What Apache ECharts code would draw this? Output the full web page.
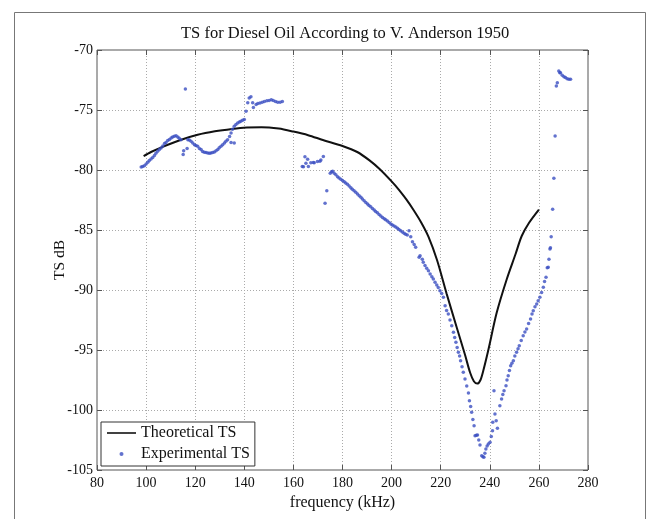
<!DOCTYPE html>
<html>
<head>
<meta charset="utf-8">
<script src="https://cdn.jsdelivr.net/npm/echarts@6/dist/echarts.min.js"></script>
<style>
  html, body { margin: 0; padding: 0; background: #fff; }
  #chart { width: 647px; height: 519px; }
</style>
</head>
<body>
<div id="chart"></div>
<script>
// frequency (kHz) / TS (dB) pairs
const theoretical = [
  [99, -78.85], [102, -78.5], [107, -78.05], [114, -77.5], [121, -77.07],
  [128, -76.78], [135, -76.58], [141, -76.46], [147, -76.43], [154, -76.55],
  [160, -76.8], [166, -77.1], [172, -77.5], [180, -78.0], [186, -78.5],
  [191, -79.2], [195, -79.9], [200, -80.95], [203, -81.65], [206, -82.45],
  [209, -83.35], [212, -84.35], [215, -85.55], [218.5, -87.5], [222.4, -90.3],
  [226.5, -93.1], [229.9, -95.4], [232, -96.9], [233.5, -97.6], [234.9, -97.8],
  [236.2, -97.5], [237.5, -96.6], [239.4, -95.0], [242.8, -91.9], [246.9, -89.1],
  [250.5, -87.0], [253, -85.5], [256, -84.4], [260, -83.3]
];

const experimental = [
  [98.0, -79.75], [98.6, -79.7], [99.3, -79.64], [100.0, -79.5], [100.7, -79.36],
  [101.3, -79.2], [102.0, -79.08], [102.7, -78.95], [103.4, -78.8], [104.0, -78.6],
  [104.7, -78.44], [105.4, -78.3], [106.1, -78.17], [106.8, -78.0], [107.5, -77.8],
  [108.1, -77.7], [108.8, -77.55], [109.5, -77.45], [110.2, -77.33], [110.8, -77.25],
  [111.5, -77.19], [112.2, -77.15], [112.9, -77.25], [113.5, -77.35], [114.2, -77.47],
  [115.1, -78.7], [115.3, -78.4], [116.0, -73.25], [116.7, -78.2], [117.0, -77.47],
  [117.6, -77.5], [118.3, -77.6], [119.0, -77.75], [119.7, -77.9], [120.3, -77.95],
  [121.0, -78.03], [121.7, -78.2], [122.4, -78.3], [123.0, -78.45], [123.7, -78.53],
  [124.4, -78.55], [125.1, -78.58], [125.8, -78.6], [126.4, -78.58], [127.1, -78.55],
  [127.8, -78.5], [128.5, -78.4], [129.2, -78.3], [129.8, -78.15], [130.5, -78.03],
  [131.2, -77.9], [131.9, -77.75], [132.5, -77.6], [133.2, -77.47], [134.0, -77.2],
  [134.6, -77.7], [135.9, -77.75], [134.6, -76.92], [135.2, -76.6], [135.9, -76.36],
  [136.6, -76.2], [137.3, -76.08], [138.0, -76.0], [138.6, -75.94], [139.3, -75.85],
  [140.0, -75.8], [140.7, -75.1], [141.4, -74.4], [142.0, -74.0], [142.7, -73.9],
  [143.4, -74.4], [143.7, -74.8], [144.8, -74.55], [145.5, -74.45], [146.4, -74.42],
  [147.3, -74.35], [148.2, -74.3], [149.2, -74.23], [150.1, -74.2], [151.0, -74.15],
  [151.8, -74.2], [152.7, -74.3], [153.6, -74.35], [154.6, -74.35], [155.5, -74.3],
  [163.6, -79.7], [164.1, -79.72], [164.7, -78.9], [165.1, -79.44], [165.8, -79.1],
  [166.1, -79.7], [167.1, -79.39], [168.1, -79.37], [168.5, -79.39], [169.8, -79.3],
  [170.8, -79.28], [171.2, -79.17], [172.2, -78.87], [172.9, -82.78], [173.6, -81.72],
  [175.0, -80.28], [175.5, -80.14], [176.0, -80.1], [176.6, -80.28], [177.3, -80.4],
  [178.0, -80.56], [178.6, -80.67], [179.3, -80.78], [180.0, -80.88], [180.7, -80.97],
  [181.3, -81.08], [182.0, -81.19], [182.7, -81.33], [183.4, -81.47], [184.0, -81.6],
  [184.7, -81.72], [185.4, -81.86], [186.1, -82.0], [186.8, -82.14], [187.5, -82.28],
  [188.1, -82.42], [188.8, -82.56], [189.5, -82.7], [190.2, -82.83], [190.8, -82.95],
  [191.5, -83.06], [192.2, -83.2], [192.9, -83.33], [193.5, -83.45], [194.2, -83.56],
  [194.9, -83.7], [195.6, -83.83], [196.3, -83.95], [197.0, -84.06], [197.6, -84.15],
  [198.3, -84.25], [199.0, -84.38], [199.7, -84.5], [200.3, -84.58], [201.0, -84.67],
  [201.7, -84.76], [202.4, -84.86], [203.0, -84.96], [203.7, -85.06], [204.4, -85.17],
  [205.1, -85.28], [205.7, -85.35], [206.4, -85.42], [207.1, -85.06], [207.8, -85.56],
  [208.5, -85.97], [209.2, -86.2], [209.8, -86.44], [211.2, -87.28], [211.6, -87.14],
  [212.5, -87.44], [212.9, -87.69], [213.6, -87.95], [214.3, -88.19], [215.0, -88.4],
  [215.7, -88.67], [216.4, -88.9], [217.0, -89.08], [217.7, -89.35], [218.4, -89.58],
  [219.0, -89.8], [219.7, -90.06], [220.4, -90.3], [221.1, -90.61], [221.8, -91.31],
  [222.4, -91.7], [223.1, -92.0], [223.8, -92.5], [224.5, -92.97], [225.2, -93.53],
  [225.7, -93.95], [226.2, -94.36], [226.7, -94.8], [227.2, -95.19], [227.7, -95.5],
  [228.1, -95.89], [228.7, -96.4], [229.2, -96.86], [229.9, -97.42], [230.6, -98.0],
  [231.3, -98.58], [231.7, -99.22], [232.2, -99.7], [232.6, -100.19], [233.1, -100.8],
  [233.6, -101.31], [234.0, -102.14], [234.5, -102.1], [235.0, -102.08], [235.5, -102.5],
  [236.0, -102.92], [236.7, -103.81], [237.2, -103.9], [237.6, -103.94], [238.0, -103.6],
  [238.4, -103.25], [238.9, -103.0], [239.4, -102.83], [240.1, -102.69], [240.6, -102.2],
  [241.1, -101.72], [241.2, -101.03], [241.7, -98.39], [242.1, -100.33], [242.6, -100.9],
  [243.1, -101.53], [244.1, -99.64], [244.8, -99.08], [245.3, -98.7], [245.8, -98.39],
  [246.6, -97.97], [247.0, -97.5], [247.5, -97.14], [248.0, -96.7], [248.5, -96.31],
  [249.0, -96.1], [249.6, -95.89], [250.2, -95.5], [250.9, -95.19], [251.5, -94.9],
  [252.0, -94.64], [252.8, -94.2], [253.6, -93.81], [254.3, -93.5], [255.0, -93.25],
  [255.8, -92.8], [256.6, -92.42], [257.2, -92.0], [257.7, -91.72], [258.4, -91.4],
  [259.1, -91.17], [259.7, -90.9], [260.4, -90.61], [261.1, -90.2], [261.8, -89.78],
  [262.3, -89.3], [262.9, -88.94], [263.4, -88.14], [263.8, -88.11], [264.1, -87.44],
  [264.5, -86.58], [264.7, -86.47], [265.0, -85.56], [265.6, -83.28], [266.1, -80.69],
  [266.6, -77.17], [267.1, -73.0], [267.5, -72.72], [268.1, -71.75], [268.5, -71.9],
  [268.8, -71.89], [269.5, -72.11], [270.2, -72.22], [270.8, -72.3], [271.5, -72.39],
  [272.2, -72.44], [272.9, -72.44]
];

const xRange = [80, 280, 20];
const yRange = [-105, -70, 5];

const serif = 'Liberation Serif';
const chart = echarts.init(document.getElementById('chart'));

// box ticks on top/right like matlab
const boxAxis = {
  axisLine: { show: false },
  axisTick: { show: true, inside: true, length: 5, lineStyle: { color: '#555' } },
  axisLabel: { show: false },
  splitLine: { show: false }
};

chart.setOption({
  backgroundColor: '#fff',
  animation: false,
  title: {
    text: 'TS for Diesel Oil According to V. Anderson 1950',
    left: 176,
    top: 20,
    textStyle: { fontFamily: serif, fontSize: 16.5, fontWeight: 'normal', color: '#111' }
  },
  graphic: [{
    type: 'rect',
    shape: { x: 14.5, y: 12.5, width: 631, height: 530 },
    style: { fill: 'none', stroke: '#777', lineWidth: 1 },
    silent: true,
    z: -1
  }],
  legend: {
    orient: 'vertical',
    left: 101,
    top: 422,
    padding: [3, 5, 4, 6],
    itemWidth: 29,
    itemHeight: 4,
    itemGap: 5,
    borderColor: '#333',
    borderWidth: 1,
    backgroundColor: '#fff',
    textStyle: { fontFamily: serif, fontSize: 16, color: '#111' },
    data: [
      { name: 'Theoretical TS', icon: 'path://M0,0L29,0L29,1.6L0,1.6Z' },
      { name: 'Experimental TS', icon: 'circle' }
    ]
  },
  grid: {
    left: 97, right: 59, top: 50, bottom: 49,
    show: true, borderColor: '#555', borderWidth: 1, backgroundColor: '#fff'
  },
  xAxis: [{
    type: 'value',
    min: xRange[0], max: xRange[1], interval: xRange[2],
    name: 'frequency (kHz)',
    nameLocation: 'middle',
    nameGap: 22,
    nameTextStyle: { fontFamily: serif, fontSize: 16, color: '#111' },
    axisLine: { show: false },
    axisTick: { show: true, inside: true, length: 5, lineStyle: { color: '#555' } },
    axisLabel: { fontFamily: serif, fontSize: 14, color: '#111', margin: 6 },
    splitLine: { show: true, lineStyle: { color: '#aaa', type: [1, 2], width: 1 } }
  }, Object.assign({ type: 'value', position: 'top', min: xRange[0], max: xRange[1], interval: xRange[2] }, boxAxis)],
  yAxis: [{
    type: 'value',
    min: yRange[0], max: yRange[1], interval: yRange[2],
    name: 'TS dB',
    nameLocation: 'middle',
    nameGap: 29,
    nameMoveOverlap: false,
    nameTextStyle: { fontFamily: serif, fontSize: 15.5, color: '#111' },
    axisLine: { show: false },
    axisTick: { show: true, inside: true, length: 5, lineStyle: { color: '#555' } },
    axisLabel: { fontFamily: serif, fontSize: 14, color: '#111', margin: 4 },
    splitLine: { show: true, lineStyle: { color: '#aaa', type: [1, 2], width: 1 } }
  }, Object.assign({ type: 'value', position: 'right', min: yRange[0], max: yRange[1], interval: yRange[2] }, boxAxis)],
  series: [{
    name: 'Theoretical TS',
    type: 'line',
    data: theoretical,
    smooth: 0.3,
    showSymbol: false,
    symbol: 'none',
    lineStyle: { color: '#111', width: 2 },
    itemStyle: { color: '#111' },
    z: 3
  }, {
    name: 'Experimental TS',
    type: 'scatter',
    data: experimental,
    symbol: 'circle',
    symbolSize: 3.5,
    itemStyle: { color: '#3b4fc2' },
    z: 4
  }]
});
</script>
</body>
</html>
